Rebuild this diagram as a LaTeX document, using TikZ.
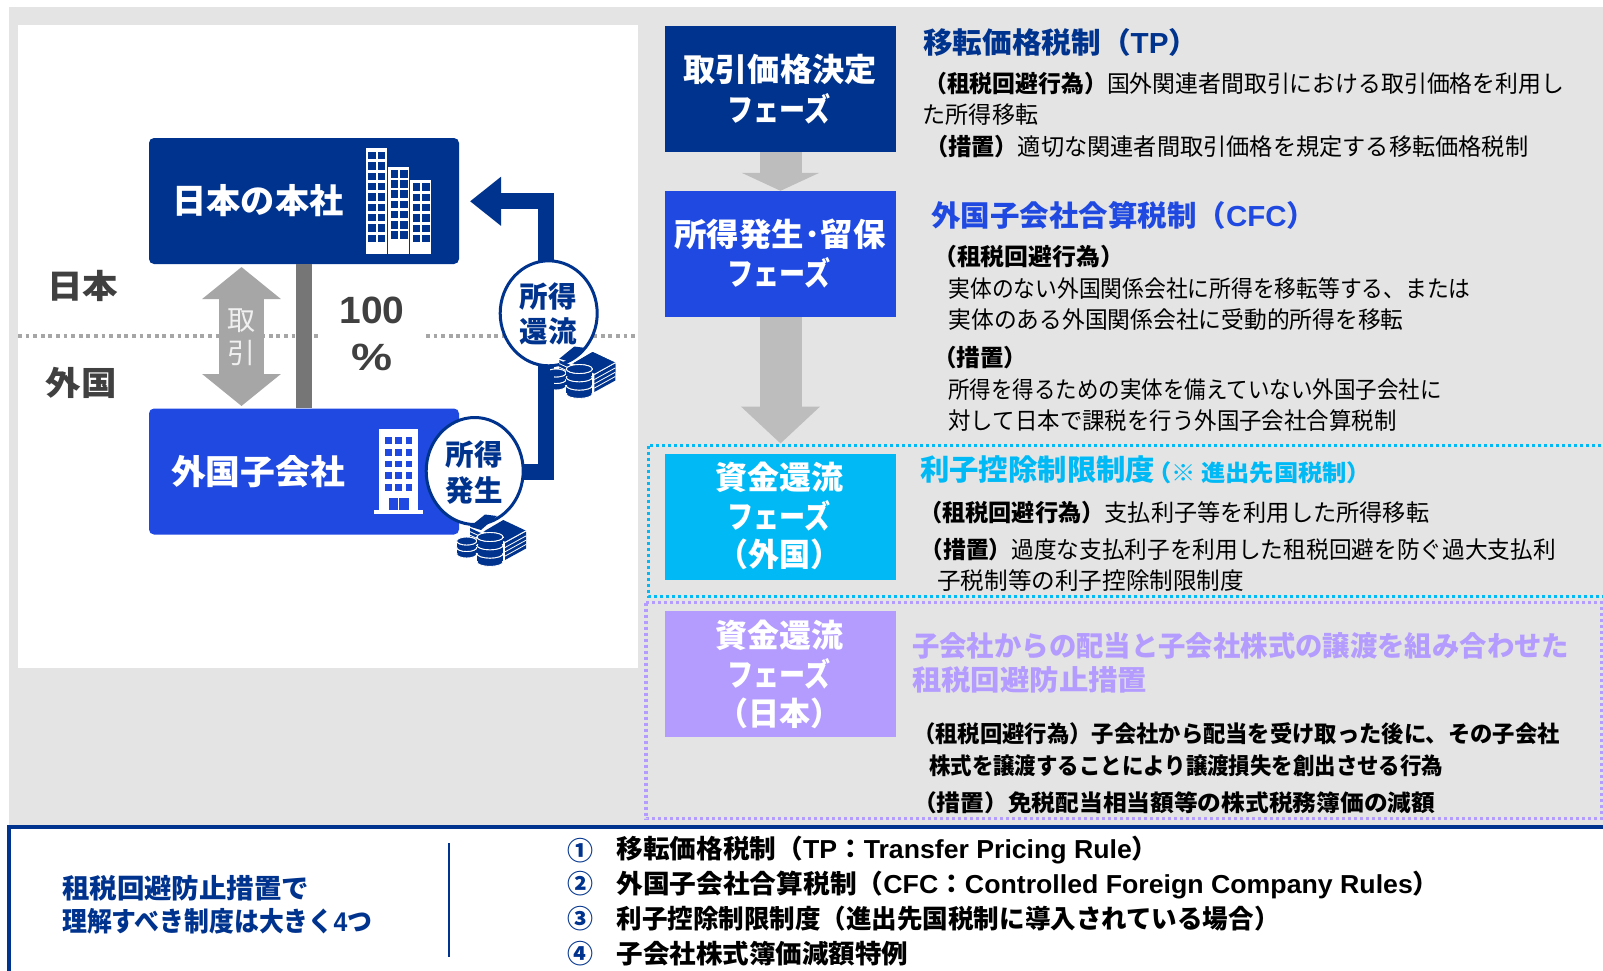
\documentclass[tikz,border=0pt]{standalone}
\usepackage{fontspec}
\usepackage{graphicx}
\setmainfont{Noto Sans CJK JP}
\newfontfamily\latf{Liberation Sans}
\usetikzlibrary{arrows.meta,shapes.geometric}
\definecolor{navy}{HTML}{00338D}
\definecolor{blu}{HTML}{1F49E0}
\definecolor{cyn}{HTML}{00B9F5}
\definecolor{pur}{HTML}{B49CFF}
\definecolor{panel}{HTML}{E4E4E4}
\definecolor{arrowgray}{HTML}{BDBDBD}
\definecolor{tradegray}{HTML}{A6A6A6}
\definecolor{bargray}{HTML}{767676}
\definecolor{ink}{HTML}{404040}
\newcommand\lat[1]{{\latf #1}}
\newcommand\fw[2]{\resizebox{#1pt}{\height}{#2}}
% name, x, y centre, size, width, options, text
\newcommand\tl[7]{\node[inner sep=0pt,anchor=base west,font=\fontsize{#4}{#4}\selectfont,#6] (#1) at (#2,#3+0.37*#4) {\fw{#5}{#7}};}
\newcommand\tc[7]{\node[inner sep=0pt,anchor=base,font=\fontsize{#4}{#4}\selectfont,#6] (#1) at (#2,#3+0.37*#4) {\fw{#5}{#7}};}
% cx, ytop, rx, ry, n, h
\newcommand\coinstack[6]{%
  \foreach \k in {#5,...,0}{%
    \fill[white] ({#1-#3-0.8},{#2+\k*#6-0.5}) rectangle ({#1+#3+0.8},{#2+\k*#6+0.5});
    \draw[white,fill=navy,line width=0.9pt] (#1,{#2+\k*#6}) ellipse[x radius=#3,y radius=#4];
    \ifnum\k>0\relax
      \fill[navy] ({#1-#3},{#2+(\k-1)*#6}) rectangle ({#1+#3},{#2+\k*#6-0.9});
      \draw[white,line width=0.9pt,fill=navy] (#1,{#2+(\k-1)*#6}) ellipse[x radius=#3,y radius=#4];
    \fi
  }%
}
\tikzset{
  phasebox/.style={rectangle,inner sep=0pt,minimum width=231pt,text=white},
  orgbox/.style={rectangle,rounded corners=5pt,inner sep=0pt,minimum width=310pt,minimum height=126pt},
  bubble/.style={ellipse,draw=navy,line width=3pt,fill=white,inner sep=0pt,minimum width=97pt},
  dotline/.style={tradegray,line width=3.5pt,dash pattern=on 3.8pt off 3.8pt},
  graydown/.style={arrowgray,line width=42pt,-{Triangle[width=77pt,length=#1]}},
  pics/moneystack/.style={code={
    \fill[navy] (470,526.7) -- (485,514.5) -- (497,516) -- (481,530) -- cycle;
    \fill[navy] (470,528) -- (483,534) -- (483,546) -- (470,540) -- cycle;
    \foreach \d in {3.6,7.2}{\draw[white,line width=0.8pt] (470,528+\d) -- (483,534+\d);}
    \fill[navy] (483.3,531.7) -- (503.3,520) -- (526,530.7) -- (505,542.3) -- cycle;
    \fill[navy] (505,543.2) -- (526,531.6) -- (526,548.5) -- (505,560) -- cycle;
    \foreach \d in {4.3,8.6,12.9}{\draw[white,line width=0.8pt] (505,543.2+\d) -- (526,531.6+\d);}
    \draw[white,line width=0.8pt] (483.3,531.7) -- (505,542.3) -- (526,530.7);
    \coinstack{466.7}{541}{10}{4}{2}{6.5}
    \coinstack{490}{537}{13}{4.5}{3}{8.3}
  }},
}
\begin{document}
\begin{tikzpicture}[x=1pt,y=-1pt]
\useasboundingbox (0,0) rectangle (1603,970);
\clip (0,0) rectangle (1603,970);
\fill[white] (0,0) rectangle (1603,970);
\fill[panel] (9,7) rectangle (1603,829);
\fill[white] (18,25) rectangle (638,668);

% ---- left panel
\draw[dotline] (18,336) -- (319,336);
\draw[dotline] (426,336) -- (638,336);
\node[orgbox,fill=navy] (hq) at (304,201) {};
\node[orgbox,fill=blu] (sub) at (304,471.5) {};
\draw[bargray,line width=16pt] (hq.south) -- (sub.north);
\coordinate (tradetop) at (241.5,267);
\coordinate (tradebot) at (241.5,406);
\draw[tradegray,line width=45.5pt,{Triangle[width=77pt,length=32pt]}-{Triangle[width=77pt,length=32pt]}] (tradetop) -- (tradebot);
\tc{trade1}{241}{320}{28}{28}{text=white!94!black}{取}
\tc{trade2}{241}{353}{28}{28}{text=white!94!black}{引}
\tc{jp}{82.5}{286}{33}{71}{text=ink}{\bfseries 日本}
\tc{fo}{81}{383}{33}{71}{text=ink}{\bfseries 外国}
\tc{pct1}{372}{309}{38}{65}{text=ink}{\lat{\bfseries 100}}
\tc{pct2}{372}{356}{38}{41}{text=ink}{\lat{\bfseries \%}}
\tc{hqt}{258}{201}{34}{171}{text=white}{\bfseries 日本の本社}
\tc{subt}{258}{472}{34}{174}{text=white}{\bfseries 外国子会社}

% building icons
\fill[white] (365.7,148) rectangle (386.7,254);
\fill[white] (388,166.5) rectangle (409,254);
\fill[white] (410.3,179.5) rectangle (431.3,254);
\foreach \r in {0,...,8}{\foreach \c in {368.3,377.8}{\fill[navy] (\c,{152+\r*10.35}) rectangle (\c+7.5,{159.3+\r*10.35});}}
\foreach \r in {0,...,6}{\foreach \c in {390.5,400}{\fill[navy] (\c,{170+\r*10.2}) rectangle (\c+7.5,{177.5+\r*10.2});}}
\foreach \r in {0,...,5}{\foreach \c in {412.8,422.3}{\fill[navy] (\c,{183.3+\r*10.3}) rectangle (\c+7.5,{190.6+\r*10.3});}}
\fill[white] (379,429.3) rectangle (418,510);
\fill[white] (374,510) rectangle (423,514.3);
\foreach \r in {0,...,4}{\foreach \c in {385,395.3,405.7}{\fill[blu] (\c,{437.3+\r*11.7}) rectangle (\c+6.6,{444+\r*11.7});}}
\fill[blu] (388.7,498) rectangle (398.3,510);
\fill[blu] (399.3,498) rectangle (408.7,510);

% money behind the return arrow
\pic (money2) at (89.3,-168) {moneystack};
% income bubbles and return arrow
\coordinate (genc) at (474.7,471.7);
\coordinate (corner1) at (546.2,471.7);
\coordinate (corner2) at (546.2,201.3);
\coordinate (hqin) at (470,201.3);
\draw[navy,line width=16pt,miter limit=10,-{Triangle[width=47pt,length=31pt]}] (genc) -- (corner1) -- (corner2) -- (hqin);
\node[bubble,minimum height=105pt] (ret) at (548.7,313.3) {};
\node[bubble,minimum height=107pt] (gen) at (474.7,471) {};
\tc{rt1}{548.3}{297}{29}{57}{text=navy}{\bfseries 所得}
\tc{rt2}{548.3}{332}{29}{57}{text=navy}{\bfseries 還流}
\tc{gt1}{474}{455}{29}{57}{text=navy}{\bfseries 所得}
\tc{gt2}{474}{490.7}{29}{57}{text=navy}{\bfseries 発生}
\pic (money1) at (0,0) {moneystack};
% top of the upper money stack lies over the bubble
\begin{scope}
  \clip (550,340) rectangle (620,372);
  \pic (money3) at (89.3,-168) {moneystack};
\end{scope}

% ---- dotted frames
\draw[cyn,line width=3.5pt,dash pattern=on 3.2pt off 2.8pt] (648.6,445.7) rectangle (1610,596.7);
\draw[pur,line width=3.5pt,dash pattern=on 3.2pt off 2.8pt] (646,602.7) rectangle (1601.5,818.7);

% ---- phase boxes
\node[phasebox,fill=navy,minimum height=126pt] (p1) at (780.5,89) {};
\node[phasebox,fill=blu,minimum height=126pt] (p2) at (780.5,254) {};
\node[phasebox,fill=cyn,minimum height=126pt] (p3) at (780,517) {};
\node[phasebox,fill=pur,minimum height=126pt] (p4) at (780,674) {};
\coordinate (p3in) at (780.5,443.5);
\draw[graydown=18pt] (p1.south) -- (p2.north);
\draw[graydown=37pt] (p2.south) -- (p3in);

\tc{p1a}{780}{69.5}{32}{193}{text=white}{\bfseries 取引価格決定}
\tc{p1b}{779}{110}{32}{103}{text=white}{\bfseries フェーズ}
\tc{p2a}{780}{235}{32}{211}{text=white}{\bfseries 所得発生･留保}
\tc{p2b}{779}{273.5}{32}{103}{text=white}{\bfseries フェーズ}
\tc{p3a}{779}{477.3}{32}{128}{text=white}{\bfseries 資金還流}
\tc{p3b}{779}{517}{32}{103}{text=white}{\bfseries フェーズ}
\tc{p3c}{779}{554.5}{32}{124}{text=white}{\bfseries （外国）}
\tc{p4a}{779}{635.3}{32}{128}{text=white}{\bfseries 資金還流}
\tc{p4b}{779}{675}{32}{103}{text=white}{\bfseries フェーズ}
\tc{p4c}{779}{713.3}{32}{124}{text=white}{\bfseries （日本）}

% ---- TP
\tl{h1}{923}{43}{29}{275}{text=navy}{\bfseries 移転価格税制（\lat{TP}）}
\tl{a1}{924}{84}{23.5}{640}{}{{\bfseries （租税回避行為）}国外関連者間取引における取引価格を利用し}
\tl{a2}{922.6}{115}{23.5}{115.4}{}{た所得移転}
\tl{a3}{925}{146.7}{23.5}{603}{}{{\bfseries （措置）}適切な関連者間取引価格を規定する移転価格税制}
% ---- CFC
\tl{h2}{931}{216}{29}{385}{text=blu}{\bfseries 外国子会社合算税制（\lat{CFC}）}
\tl{b1}{933}{256.7}{23.5}{191}{}{\bfseries （租税回避行為）}
\tl{b2}{948.3}{288.3}{23.5}{522}{}{実体のない外国関係会社に所得を移転等する、または}
\tl{b3}{948.3}{320}{23.5}{455}{}{実体のある外国関係会社に受動的所得を移転}
\tl{b4}{933}{358}{23.5}{94}{}{\bfseries （措置）}
\tl{b5}{948.3}{389.3}{23.5}{493}{}{所得を得るための実体を備えていない外国子会社に}
\tl{b6}{948.3}{421}{23.5}{448}{}{対して日本で課税を行う外国子会社合算税制}
% ---- interest
\tl{h3}{920}{470}{29}{235}{text=cyn}{\bfseries 利子控除制限制度}
\tl{h3b}{1147}{473.3}{23}{224}{text=cyn}{\bfseries （※ 進出先国税制）}
\tl{c1}{919}{512.3}{23.5}{510}{}{{\bfseries （租税回避行為）}支払利子等を利用した所得移転}
\tl{c2}{920.6}{549.3}{23.5}{635}{}{{\bfseries （措置）}過度な支払利子を利用した租税回避を防ぐ過大支払利}
\tl{c3}{937}{581}{23.5}{307}{}{子税制等の利子控除制限制度}
% ---- dividend
\tl{h4}{912}{645.7}{28}{657}{text=pur}{\bfseries 子会社からの配当と子会社株式の譲渡を組み合わせた}
\tl{h4b}{912}{680}{28}{235}{text=pur}{\bfseries 租税回避防止措置}
\tl{d1}{913}{734}{23}{646.5}{}{\bfseries （租税回避行為）子会社から配当を受け取った後に、その子会社}
\tl{d2}{929}{766}{23}{514}{}{\bfseries 株式を譲渡することにより譲渡損失を創出させる行為}
\tl{d3}{913}{802.7}{23}{522}{}{\bfseries （措置）免税配当相当額等の株式税務簿価の減額}

% ---- bottom band
\draw[navy,line width=3.6pt,fill=white] (9,827) rectangle (1620,990);
\tl{s1}{62}{888}{27}{247}{text=navy}{\bfseries 租税回避防止措置で}
\tl{s2}{62}{921.7}{27}{310}{text=navy}{\bfseries 理解すべき制度は大きく\lat{4}つ}
\coordinate (septop) at (448.5,843);
\coordinate (sepbot) at (448.5,957);
\draw[navy,line width=2pt] (septop) -- (sepbot);
\tc{n1}{580}{850.7}{26}{26}{text=navy}{\bfseries ①}
\tc{n2}{580}{884}{26}{26}{text=navy}{\bfseries ②}
\tc{n3}{580}{918.5}{26}{26}{text=navy}{\bfseries ③}
\tc{n4}{580}{954}{26}{26}{text=navy}{\bfseries ④}
\tl{e1}{616.3}{849}{26}{542}{}{\bfseries 移転価格税制（\lat{TP}：\lat{Transfer Pricing Rule}）}
\tl{e2}{616.3}{883.5}{26}{823}{}{\bfseries 外国子会社合算税制（\lat{CFC}：\lat{Controlled Foreign Company Rules}）}
\tl{e3}{616.3}{918.5}{26}{663}{}{\bfseries 利子控除制限制度（進出先国税制に導入されている場合）}
\tl{e4}{616.3}{954}{26}{292}{}{\bfseries 子会社株式簿価減額特例}
\end{tikzpicture}
\end{document}
